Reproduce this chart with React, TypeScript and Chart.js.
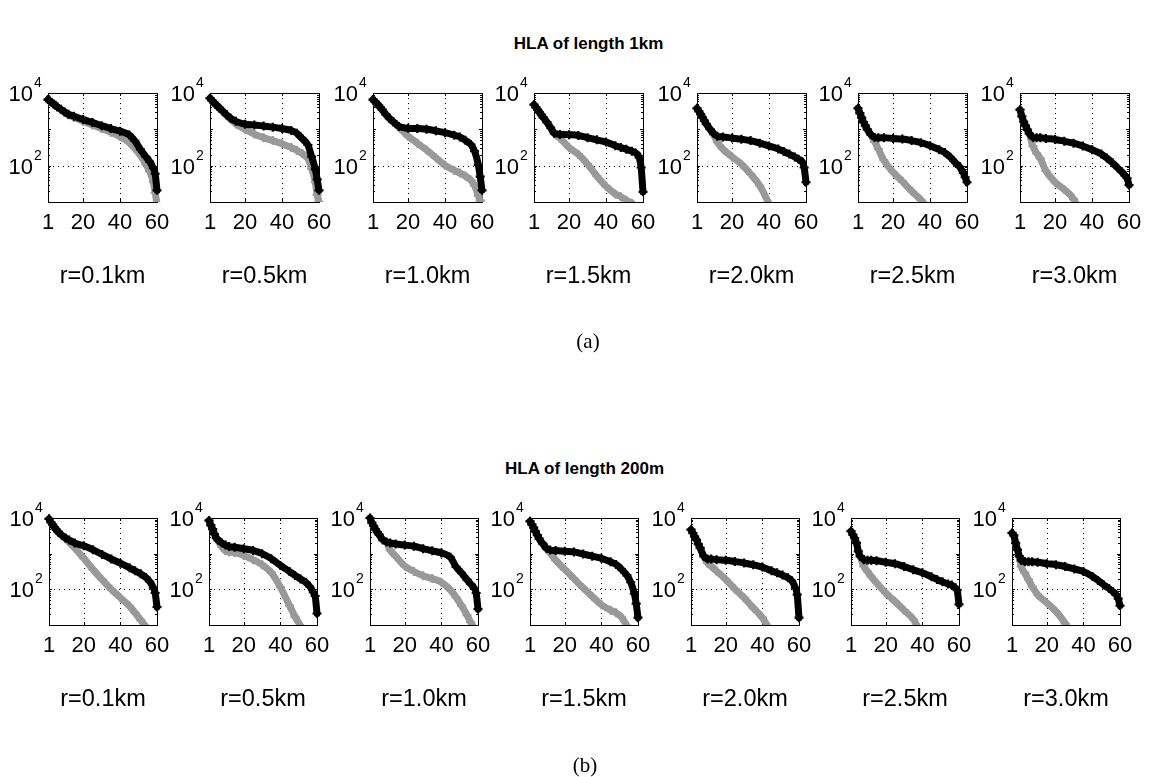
import { useEffect, useRef } from "react";
import { Chart, registerables } from "chart.js";

Chart.register(...registerables);

// Shared ranks along the horizontal axis (1..60)
const RANK = [1, 2, 3, 4, 5, 6, 8, 10, 12, 15, 20, 25, 30, 35, 40, 45, 48, 51, 54, 56, 58, 59, 60];
const X_TICKS = [1, 20, 40, 60];
const Y_TICKS = [100, 10000];
const Y_MIN = 10;
const Y_MAX = 10000;
const RADII = ["r=0.1km", "r=0.5km", "r=1.0km", "r=1.5km", "r=2.0km", "r=2.5km", "r=3.0km"];

// HLA of length 1km — main series (black) and secondary series (grey)
const len1km_r01_main = [6600, 6000, 5500, 5000, 4600, 4200, 3550, 3000, 2600, 2300, 1860, 1550, 1260, 1050, 890, 700, 480, 280, 175, 130, 85, 60, 21];
const len1km_r01_alt = [6500, 5900, 5400, 4900, 4500, 4100, 3450, 2900, 2500, 2150, 1660, 1320, 1050, 830, 630, 430, 300, 195, 110, 70, 35, 18, 9];
const len1km_r05_main = [7200, 6300, 5500, 4900, 4400, 3900, 3160, 2500, 2040, 1660, 1380, 1320, 1230, 1150, 1050, 930, 780, 550, 370, 178, 79, 42, 21];
const len1km_r05_alt = [7100, 6200, 5400, 4800, 4300, 3800, 3050, 2400, 1950, 1410, 1000, 740, 590, 490, 400, 316, 263, 214, 158, 83, 35, 16, 10];
const len1km_r10_main = [6600, 5900, 5100, 4600, 4000, 3470, 2570, 2000, 1620, 1200, 1070, 1050, 1000, 910, 810, 690, 620, 500, 380, 251, 105, 50, 21];
const len1km_r10_alt = [6500, 5800, 5000, 4500, 3900, 3400, 2500, 1950, 1580, 1150, 645, 417, 270, 166, 102, 74, 63, 52, 40, 28, 15, 11, 9];
const len1km_r15_main = [4800, 4070, 3470, 2950, 2500, 2140, 1580, 1120, 776, 724, 710, 680, 590, 513, 447, 355, 316, 282, 251, 224, 166, 89, 19];
const len1km_r15_alt = [4700, 4000, 3400, 2900, 2450, 2100, 1540, 1080, 760, 575, 316, 204, 110, 52, 27, 16.6, 14, 11.2, 9.3, null, null, null, null];
const len1km_r20_main = [3800, 3160, 2630, 2140, 1740, 1410, 1020, 776, 646, 617, 575, 537, 490, 417, 347, 288, 245, 209, 174, 151, 126, 89, 35];
const len1km_r20_alt = [3750, 3100, 2580, 2100, 1700, 1380, 990, 700, 447, 288, 174, 110, 59, 28, 9, null, null, null, null, null, null, null, null];
const len1km_r25_main = [3800, 2800, 2100, 1580, 1260, 1000, 720, 600, 590, 590, 560, 540, 490, 430, 355, 275, 230, 170, 117, 93, 63, 48, 35];
const len1km_r25_alt = [3750, 2750, 2050, 1550, 1230, 980, 700, 457, 288, 141, 66, 37, 20, 11.5, 5.8, null, null, null, null, null, null, null, null];
const len1km_r30_main = [3470, 2290, 1620, 1260, 980, 776, 600, 590, 590, 562, 525, 468, 417, 347, 275, 209, 162, 120, 85, 68, 52, 45, 29];
const len1km_r30_alt = [3400, 2250, 1580, 1230, 960, 740, 347, 219, 158, 72, 35, 22, 12, 3.2, null, null, null, null, null, null, null, null, null];

// HLA of length 200m
const len200m_r01_main = [9500, 7600, 6500, 5500, 4700, 4100, 3300, 2750, 2400, 2000, 1660, 1290, 950, 710, 540, 400, 330, 275, 214, 166, 112, 79, 32];
const len200m_r01_alt = [9400, 7500, 6400, 5400, 4600, 4000, 3200, 2650, 2090, 1450, 740, 363, 186, 100, 58, 34, 22, 14, 9, null, null, null, null];
const len200m_r05_main = [8500, 6300, 4900, 3550, 2750, 2400, 2000, 1740, 1580, 1510, 1380, 1230, 1000, 724, 468, 316, 245, 195, 155, 120, 83, 65, 21];
const len200m_r05_alt = [8400, 6200, 4800, 3500, 2700, 2300, 1540, 1200, 1120, 1070, 890, 680, 490, 295, 115, 35, 17, 9.5, null, null, null, null, null];
const len200m_r10_main = [10000, 7400, 6000, 4800, 4000, 3400, 2450, 2140, 2000, 1860, 1740, 1620, 1380, 1200, 1050, 790, 427, 288, 186, 141, 107, 79, 28];
const len200m_r10_alt = [9900, 7300, 5900, 4700, 3900, 3350, 2400, 2100, 1260, 850, 447, 316, 240, 200, 158, 95, 60, 35, 19, 12, 8, null, null];
const len200m_r15_main = [8100, 6600, 5400, 4200, 3300, 2630, 1900, 1410, 1260, 1230, 1170, 1120, 980, 850, 740, 590, 500, 363, 245, 158, 76, 40, 16];
const len200m_r15_alt = [8000, 6500, 5300, 4100, 3250, 2600, 1850, 1380, 1050, 660, 363, 200, 110, 63, 37, 26, 22, 16.6, 9.5, null, null, null, null];
const len200m_r20_main = [4700, 3800, 3000, 2450, 1860, 1450, 850, 710, 710, 680, 650, 600, 550, 490, 420, 330, 290, 251, 210, 174, 112, 71, 16];
const len200m_r20_alt = [4650, 3750, 2950, 2400, 1820, 1420, 830, 550, 447, 324, 190, 102, 58, 30, 16, 6, null, null, null, null, null, null, null];
const len200m_r25_main = [4300, 3400, 2750, 2000, 1170, 850, 680, 650, 650, 630, 575, 525, 437, 355, 290, 224, 190, 162, 141, 132, 110, 95, 38];
const len200m_r25_alt = [4250, 3350, 2700, 1950, 1150, 830, 437, 316, 229, 151, 79, 46, 26, 14.5, 5, null, null, null, null, null, null, null, null];
const len200m_r30_main = [3800, 3240, 2000, 1290, 850, 650, 600, 590, 590, 575, 525, 490, 437, 372, 316, 229, 178, 135, 105, 87, 69, 55, 35];
const len200m_r30_alt = [3750, 3200, 1950, 1260, 830, 437, 288, 186, 120, 71, 42, 24, 11.2, 4, null, null, null, null, null, null, null, null, null];

type Series = (number | null)[];

const ROW_1KM: [Series, Series][] = [
  [len1km_r01_main, len1km_r01_alt],
  [len1km_r05_main, len1km_r05_alt],
  [len1km_r10_main, len1km_r10_alt],
  [len1km_r15_main, len1km_r15_alt],
  [len1km_r20_main, len1km_r20_alt],
  [len1km_r25_main, len1km_r25_alt],
  [len1km_r30_main, len1km_r30_alt],
];
const ROW_200M: [Series, Series][] = [
  [len200m_r01_main, len200m_r01_alt],
  [len200m_r05_main, len200m_r05_alt],
  [len200m_r10_main, len200m_r10_alt],
  [len200m_r15_main, len200m_r15_alt],
  [len200m_r20_main, len200m_r20_alt],
  [len200m_r25_main, len200m_r25_alt],
  [len200m_r30_main, len200m_r30_alt],
];

// Page layout of the two panel rows (plot-box positions in page pixels)
const LAYOUT_A = { top: 93, boxW: 109, boxH: 109, lefts: [48, 210, 373, 534, 697, 858, 1020] };
const LAYOUT_B = { top: 518, boxW: 108, boxH: 107, lefts: [49, 209, 370, 530, 691, 851, 1012] };
const PAD = { l: 46, t: 24, r: 16, b: 96 };

const SANS = "'Liberation Sans', Arial, Helvetica, sans-serif";

const panelDecor = {
  id: "panelDecor",
  beforeDatasetsDraw(chart: any) {
    const { ctx, chartArea: a, scales } = chart;
    const xs = scales.x;
    const ys = scales.y;
    ctx.save();
    ctx.strokeStyle = "#000";
    ctx.lineWidth = 1;

    // dotted grid at interior major ticks
    ctx.setLineDash([1, 4]);
    ctx.beginPath();
    for (const v of X_TICKS) {
      if (v === xs.min || v === xs.max) continue;
      const px = Math.round(xs.getPixelForValue(v)) + 0.5;
      ctx.moveTo(px, a.top);
      ctx.lineTo(px, a.bottom);
    }
    for (const v of Y_TICKS) {
      if (v === ys.min || v === ys.max) continue;
      const py = Math.round(ys.getPixelForValue(v)) + 0.5;
      ctx.moveTo(a.left, py);
      ctx.lineTo(a.right, py);
    }
    ctx.stroke();
    ctx.setLineDash([]);

    // inward tick marks
    ctx.beginPath();
    for (const v of X_TICKS) {
      const px = Math.round(xs.getPixelForValue(v)) + 0.5;
      ctx.moveTo(px, a.bottom);
      ctx.lineTo(px, a.bottom - 3);
      ctx.moveTo(px, a.top);
      ctx.lineTo(px, a.top + 3);
    }
    for (let k = 1; k < 4; k++) {
      for (let m = 1; m < 10; m++) {
        const v = m * Math.pow(10, k);
        if (v <= Y_MIN || v >= Y_MAX) continue;
        const len = m === 1 ? 3 : 2;
        const py = Math.round(ys.getPixelForValue(v)) + 0.5;
        ctx.moveTo(a.left, py);
        ctx.lineTo(a.left + len, py);
        ctx.moveTo(a.right, py);
        ctx.lineTo(a.right - len, py);
      }
    }
    ctx.stroke();

    // axes box
    ctx.strokeRect(a.left + 0.5, a.top + 0.5, a.right - a.left, a.bottom - a.top);
    ctx.restore();
  },
  afterDraw(chart: any, _args: any, opts: any) {
    const { ctx, chartArea: a, scales } = chart;
    const xs = scales.x;
    const ys = scales.y;
    ctx.save();
    ctx.fillStyle = "#000";
    ctx.textBaseline = "alphabetic";

    ctx.font = `22px ${SANS}`;
    ctx.textAlign = "center";
    for (const v of X_TICKS) {
      ctx.fillText(String(v), xs.getPixelForValue(v), a.bottom + 26.5);
    }
    for (const v of Y_TICKS) {
      const py = ys.getPixelForValue(v);
      ctx.font = `22px ${SANS}`;
      ctx.textAlign = "right";
      ctx.fillText("10", a.left - 15, py + 8);
      ctx.font = `14px ${SANS}`;
      ctx.textAlign = "left";
      ctx.fillText(String(Math.round(Math.log10(v))), a.left - 14, py - 6);
    }
    ctx.font = `23.5px ${SANS}`;
    ctx.textAlign = "center";
    ctx.fillText(opts.caption, (a.left + a.right) / 2, a.bottom + 81);
    ctx.restore();
  },
};

type PanelProps = {
  left: number;
  top: number;
  boxW: number;
  boxH: number;
  caption: string;
  main: Series;
  alt: Series;
};

function Panel({ left, top, boxW, boxH, caption, main, alt }: PanelProps) {
  const ref = useRef<HTMLCanvasElement | null>(null);
  const W = PAD.l + boxW + PAD.r;
  const H = PAD.t + boxH + PAD.b;

  useEffect(() => {
    const canvas = ref.current;
    if (!canvas) return;
    const toPoints = (vals: Series) => RANK.map((r, i) => ({ x: r, y: vals[i] }));
    const seriesStyle = (color: string) => ({
      borderColor: color,
      backgroundColor: color,
      borderWidth: 7,
      borderJoinStyle: "round" as const,
      borderCapStyle: "round" as const,
      cubicInterpolationMode: "monotone" as const,
      pointStyle: "cross" as const,
      pointRadius: 4.5,
      pointBorderWidth: 2.2,
      pointBorderColor: color,
      pointHoverRadius: 0,
      spanGaps: false,
      clip: { left: 10, top: 10, right: 10, bottom: 0 },
    });
    const chart = new Chart(canvas, {
      type: "line",
      data: {
        datasets: [
          { data: toPoints(main), ...seriesStyle("#000000") },
          { data: toPoints(alt), ...seriesStyle("#999999") },
        ],
      },
      options: {
        responsive: false,
        animation: false,
        devicePixelRatio: 1,
        events: [],
        layout: { padding: { left: PAD.l, top: PAD.t, right: PAD.r, bottom: PAD.b } },
        plugins: {
          legend: { display: false },
          tooltip: { enabled: false },
          // @ts-ignore custom plugin options
          panelDecor: { caption },
        },
        scales: {
          x: { type: "linear", min: 1, max: 60, display: false },
          y: { type: "logarithmic", min: Y_MIN, max: Y_MAX, display: false },
        },
      },
      plugins: [panelDecor],
    } as any);
    return () => chart.destroy();
  }, [main, alt, caption]);

  return (
    <canvas
      ref={ref}
      width={W}
      height={H}
      style={{ position: "absolute", left: left - PAD.l, top: top - PAD.t, width: W, height: H }}
    />
  );
}

function Heading({ text, cx, cy }: { text: string; cx: number; cy: number }) {
  return (
    <div
      style={{
        position: "absolute",
        left: cx - 300,
        top: cy - 11,
        width: 600,
        height: 22,
        lineHeight: "22px",
        textAlign: "center",
        font: `bold 17px ${SANS}`,
        color: "#000",
      }}
    >
      {text}
    </div>
  );
}

function Caption({ text, cx, cy }: { text: string; cx: number; cy: number }) {
  return (
    <div
      style={{
        position: "absolute",
        left: cx - 50,
        top: cy - 13,
        width: 100,
        height: 26,
        lineHeight: "26px",
        textAlign: "center",
        font: `21px 'Liberation Serif', 'DejaVu Serif', serif`,
        color: "#000",
      }}
    >
      {text}
    </div>
  );
}

export default function App() {
  return (
    <div
      style={{
        position: "absolute",
        left: 0,
        top: 0,
        width: 1150,
        height: 777,
        background: "#ffffff",
        overflow: "hidden",
      }}
    >
      <Heading text="HLA of length 1km" cx={588.5} cy={45} />
      {ROW_1KM.map(([main, alt], i) => (
        <Panel
          key={`a${i}`}
          left={LAYOUT_A.lefts[i]}
          top={LAYOUT_A.top}
          boxW={LAYOUT_A.boxW}
          boxH={LAYOUT_A.boxH}
          caption={RADII[i]}
          main={main}
          alt={alt}
        />
      ))}
      <Caption text="(a)" cx={588} cy={342} />

      <Heading text="HLA of length 200m" cx={584.5} cy={470} />
      {ROW_200M.map(([main, alt], i) => (
        <Panel
          key={`b${i}`}
          left={LAYOUT_B.lefts[i]}
          top={LAYOUT_B.top}
          boxW={LAYOUT_B.boxW}
          boxH={LAYOUT_B.boxH}
          caption={RADII[i]}
          main={main}
          alt={alt}
        />
      ))}
      <Caption text="(b)" cx={585} cy={766} />
    </div>
  );
}
